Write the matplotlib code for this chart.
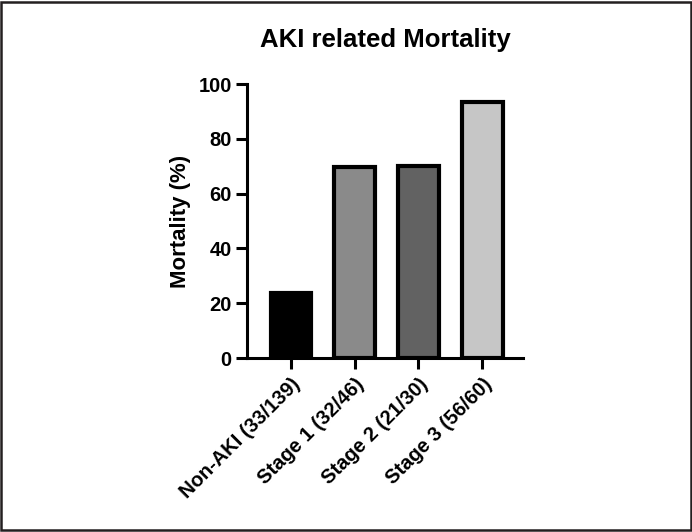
import matplotlib.pyplot as plt
from matplotlib.patches import Rectangle

plt.rcParams['font.family'] = ['Liberation Sans', 'DejaVu Sans']
plt.rcParams['font.weight'] = 'bold'

# data
groups = ['Non-AKI (33/139)', 'Stage 1 (32/46)', 'Stage 2 (21/30)', 'Stage 3 (56/60)']
mortality = [23.7, 69.6, 70.0, 93.3]
bar_colors = ['#000000', '#8a8a8a', '#626262', '#c6c6c6']
yticks = [0, 20, 40, 60, 80, 100]

fig = plt.figure(figsize=(6.92, 5.32), dpi=100)
ax = fig.add_axes([247/692, 1-358/532, (523-247)/692, (358-84)/532])

x = list(range(len(groups)))
ax.bar(x, mortality, width=0.64, color=bar_colors, edgecolor='black', linewidth=3.0, zorder=3)

ax.set_xlim(-0.69, 3.64)
ax.set_ylim(0, 100)
ax.set_yticks(yticks)
ax.set_xticks(x)
ax.set_xticklabels(groups, rotation=45, ha='right', rotation_mode='anchor', fontsize=14.5, fontweight='bold')
ax.tick_params(axis='y', labelsize=14.5, width=2.2, length=8, pad=3)
ax.tick_params(axis='x', width=2.2, length=8, pad=4)
for lab in ax.get_yticklabels():
    lab.set_fontweight('bold')
ax.spines['top'].set_visible(False)
ax.spines['right'].set_visible(False)
ax.spines['left'].set_linewidth(2.2)
ax.spines['bottom'].set_linewidth(2.2)
ax.set_ylabel('Mortality (%)', fontsize=16, fontweight='bold', labelpad=5)
fig.text(385/692, 1-40/532, 'AKI related Mortality', ha='center', va='center', fontsize=18.5, fontweight='bold')

# frame around figure
fig.patches.append(Rectangle((0.002, 0.003), 0.996, 0.994, transform=fig.transFigure,
                             fill=False, edgecolor='#231f20', linewidth=1.8))

fig.savefig('out.png', dpi=100)
